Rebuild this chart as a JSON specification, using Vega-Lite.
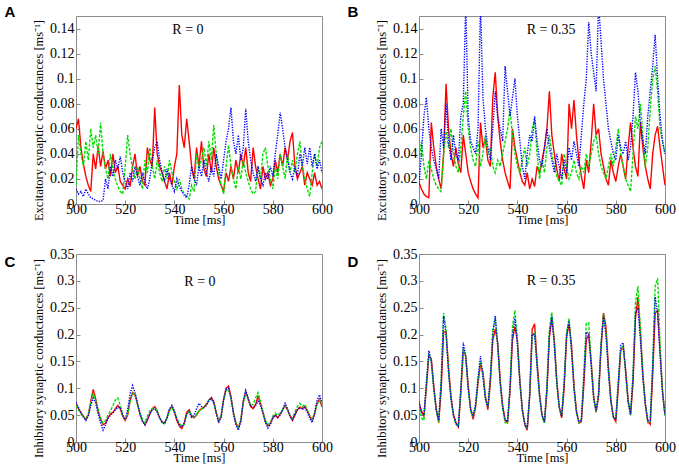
{
  "$schema": "https://vega.github.io/schema/vega-lite/v6.json",
  "background": "#ffffff",
  "padding": {"left": 4, "top": 4, "right": 0, "bottom": 0},
  "config": {
    "font": "Liberation Serif",
    "view": {"stroke": "#8c8c8c", "strokeWidth": 1},
    "title": {"font": "Liberation Sans", "fontWeight": "bold", "fontSize": 15, "anchor": "start", "frame": "bounds", "offset": -4, "dx": -28}
  },
  "datasets": {
    "A": [
      {"t":500,"r":0.060,"g":0.015,"b":0.012},{"t":501,"r":0.068,"g":0.055,"b":0.008},{"t":502,"r":0.045,"g":0.040,"b":0.010},{"t":503,"r":0.032,"g":0.030,"b":0.006},{"t":504,"r":0.022,"g":0.050,"b":0.012},
      {"t":505,"r":0.015,"g":0.035,"b":0.008},{"t":506,"r":0.010,"g":0.060,"b":0.005},{"t":507,"r":0.040,"g":0.045,"b":0.004},{"t":508,"r":0.028,"g":0.055,"b":0.003},{"t":509,"r":0.046,"g":0.040,"b":0.002},
      {"t":510,"r":0.030,"g":0.065,"b":0.002},{"t":511,"r":0.042,"g":0.040,"b":0.003},{"t":512,"r":0.028,"g":0.028,"b":0.020},{"t":513,"r":0.035,"g":0.020,"b":0.012},{"t":514,"r":0.022,"g":0.040,"b":0.030},
      {"t":515,"r":0.040,"g":0.028,"b":0.022},{"t":516,"r":0.025,"g":0.020,"b":0.035},{"t":517,"r":0.030,"g":0.014,"b":0.028},{"t":518,"r":0.018,"g":0.010,"b":0.038},{"t":519,"r":0.015,"g":0.008,"b":0.025},
      {"t":520,"r":0.012,"g":0.030,"b":0.018},{"t":521,"r":0.020,"g":0.055,"b":0.012},{"t":522,"r":0.014,"g":0.040,"b":0.025},{"t":523,"r":0.030,"g":0.028,"b":0.018},{"t":524,"r":0.040,"g":0.020,"b":0.030},
      {"t":525,"r":0.022,"g":0.030,"b":0.022},{"t":526,"r":0.030,"g":0.020,"b":0.015},{"t":527,"r":0.018,"g":0.012,"b":0.025},{"t":528,"r":0.015,"g":0.035,"b":0.018},{"t":529,"r":0.045,"g":0.025,"b":0.012},
      {"t":530,"r":0.035,"g":0.045,"b":0.020},{"t":531,"r":0.030,"g":0.030,"b":0.035},{"t":532,"r":0.077,"g":0.020,"b":0.045},{"t":533,"r":0.040,"g":0.035,"b":0.050},{"t":534,"r":0.030,"g":0.025,"b":0.035},
      {"t":535,"r":0.025,"g":0.018,"b":0.025},{"t":536,"r":0.018,"g":0.030,"b":0.018},{"t":537,"r":0.012,"g":0.020,"b":0.028},{"t":538,"r":0.025,"g":0.035,"b":0.020},{"t":539,"r":0.015,"g":0.025,"b":0.015},
      {"t":540,"r":0.030,"g":0.018,"b":0.010},{"t":541,"r":0.040,"g":0.012,"b":0.020},{"t":542,"r":0.095,"g":0.020,"b":0.014},{"t":543,"r":0.055,"g":0.012,"b":0.010},{"t":544,"r":0.045,"g":0.008,"b":0.007},
      {"t":545,"r":0.068,"g":0.006,"b":0.005},{"t":546,"r":0.050,"g":0.004,"b":0.015},{"t":547,"r":0.030,"g":0.015,"b":0.030},{"t":548,"r":0.020,"g":0.010,"b":0.020},{"t":549,"r":0.045,"g":0.040,"b":0.015},
      {"t":550,"r":0.030,"g":0.028,"b":0.030},{"t":551,"r":0.050,"g":0.035,"b":0.022},{"t":552,"r":0.028,"g":0.045,"b":0.035},{"t":553,"r":0.022,"g":0.030,"b":0.025},{"t":554,"r":0.040,"g":0.050,"b":0.018},
      {"t":555,"r":0.025,"g":0.035,"b":0.030},{"t":556,"r":0.045,"g":0.063,"b":0.022},{"t":557,"r":0.030,"g":0.040,"b":0.040},{"t":558,"r":0.020,"g":0.025,"b":0.030},{"t":559,"r":0.015,"g":0.015,"b":0.020},
      {"t":560,"r":0.010,"g":0.008,"b":0.035},{"t":561,"r":0.025,"g":0.030,"b":0.050},{"t":562,"r":0.018,"g":0.047,"b":0.060},{"t":563,"r":0.030,"g":0.030,"b":0.077},{"t":564,"r":0.020,"g":0.020,"b":0.050},
      {"t":565,"r":0.035,"g":0.012,"b":0.040},{"t":566,"r":0.025,"g":0.030,"b":0.055},{"t":567,"r":0.040,"g":0.020,"b":0.035},{"t":568,"r":0.030,"g":0.035,"b":0.045},{"t":569,"r":0.045,"g":0.025,"b":0.076},
      {"t":570,"r":0.025,"g":0.018,"b":0.050},{"t":571,"r":0.018,"g":0.012,"b":0.035},{"t":572,"r":0.045,"g":0.008,"b":0.025},{"t":573,"r":0.030,"g":0.010,"b":0.018},{"t":574,"r":0.020,"g":0.030,"b":0.030},
      {"t":575,"r":0.012,"g":0.020,"b":0.020},{"t":576,"r":0.030,"g":0.040,"b":0.015},{"t":577,"r":0.020,"g":0.045,"b":0.025},{"t":578,"r":0.025,"g":0.030,"b":0.020},{"t":579,"r":0.015,"g":0.020,"b":0.030},
      {"t":580,"r":0.020,"g":0.012,"b":0.022},{"t":581,"r":0.035,"g":0.030,"b":0.040},{"t":582,"r":0.025,"g":0.020,"b":0.055},{"t":583,"r":0.040,"g":0.040,"b":0.073},{"t":584,"r":0.030,"g":0.030,"b":0.060},
      {"t":585,"r":0.045,"g":0.020,"b":0.045},{"t":586,"r":0.035,"g":0.040,"b":0.035},{"t":587,"r":0.050,"g":0.025,"b":0.025},{"t":588,"r":0.057,"g":0.035,"b":0.020},{"t":589,"r":0.030,"g":0.025,"b":0.030},
      {"t":590,"r":0.020,"g":0.040,"b":0.022},{"t":591,"r":0.025,"g":0.050,"b":0.040},{"t":592,"r":0.030,"g":0.030,"b":0.030},{"t":593,"r":0.015,"g":0.020,"b":0.045},{"t":594,"r":0.025,"g":0.012,"b":0.032},
      {"t":595,"r":0.020,"g":0.006,"b":0.045},{"t":596,"r":0.015,"g":0.025,"b":0.030},{"t":597,"r":0.025,"g":0.040,"b":0.040},{"t":598,"r":0.015,"g":0.030,"b":0.028},{"t":599,"r":0.018,"g":0.045,"b":0.035},
      {"t":600,"r":0.012,"g":0.050,"b":0.025}
    ],
    "B": [
      {"t":500,"r":0.017,"g":0.035,"b":0.015},{"t":501,"r":0.012,"g":0.050,"b":0.040},{"t":502,"r":0.008,"g":0.030,"b":0.070},{"t":503,"r":0.006,"g":0.020,"b":0.085},{"t":504,"r":0.005,"g":0.035,"b":0.060},
      {"t":505,"r":0.065,"g":0.028,"b":0.045},{"t":506,"r":0.045,"g":0.020,"b":0.035},{"t":507,"r":0.030,"g":0.015,"b":0.028},{"t":508,"r":0.020,"g":0.012,"b":0.020},{"t":509,"r":0.012,"g":0.010,"b":0.060},
      {"t":510,"r":0.040,"g":0.040,"b":0.045},{"t":511,"r":0.096,"g":0.058,"b":0.080},{"t":512,"r":0.060,"g":0.045,"b":0.050},{"t":513,"r":0.040,"g":0.060,"b":0.035},{"t":514,"r":0.030,"g":0.040,"b":0.055},
      {"t":515,"r":0.045,"g":0.030,"b":0.040},{"t":516,"r":0.032,"g":0.025,"b":0.035},{"t":517,"r":0.025,"g":0.045,"b":0.070},{"t":518,"r":0.055,"g":0.070,"b":0.080},{"t":519,"r":0.040,"g":0.090,"b":0.160},
      {"t":520,"r":0.025,"g":0.060,"b":0.070},{"t":521,"r":0.018,"g":0.045,"b":0.050},{"t":522,"r":0.012,"g":0.035,"b":0.045},{"t":523,"r":0.008,"g":0.030,"b":0.040},{"t":524,"r":0.005,"g":0.050,"b":0.060},
      {"t":525,"r":0.065,"g":0.030,"b":0.160},{"t":526,"r":0.045,"g":0.040,"b":0.085},{"t":527,"r":0.052,"g":0.055,"b":0.060},{"t":528,"r":0.035,"g":0.040,"b":0.045},{"t":529,"r":0.030,"g":0.045,"b":0.035},
      {"t":530,"r":0.085,"g":0.030,"b":0.060},{"t":531,"r":0.105,"g":0.025,"b":0.090},{"t":532,"r":0.070,"g":0.035,"b":0.070},{"t":533,"r":0.050,"g":0.030,"b":0.060},{"t":534,"r":0.035,"g":0.040,"b":0.050},
      {"t":535,"r":0.025,"g":0.050,"b":0.110},{"t":536,"r":0.018,"g":0.060,"b":0.090},{"t":537,"r":0.012,"g":0.075,"b":0.070},{"t":538,"r":0.060,"g":0.055,"b":0.085},{"t":539,"r":0.045,"g":0.040,"b":0.100},
      {"t":540,"r":0.035,"g":0.030,"b":0.070},{"t":541,"r":0.025,"g":0.025,"b":0.050},{"t":542,"r":0.018,"g":0.035,"b":0.030},{"t":543,"r":0.015,"g":0.045,"b":0.020},{"t":544,"r":0.025,"g":0.030,"b":0.040},
      {"t":545,"r":0.012,"g":0.040,"b":0.055},{"t":546,"r":0.020,"g":0.060,"b":0.050},{"t":547,"r":0.014,"g":0.068,"b":0.070},{"t":548,"r":0.030,"g":0.040,"b":0.050},{"t":549,"r":0.025,"g":0.020,"b":0.035},
      {"t":550,"r":0.035,"g":0.035,"b":0.030},{"t":551,"r":0.045,"g":0.025,"b":0.045},{"t":552,"r":0.060,"g":0.045,"b":0.060},{"t":553,"r":0.090,"g":0.055,"b":0.045},{"t":554,"r":0.055,"g":0.040,"b":0.035},
      {"t":555,"r":0.040,"g":0.030,"b":0.025},{"t":556,"r":0.028,"g":0.022,"b":0.040},{"t":557,"r":0.018,"g":0.018,"b":0.030},{"t":558,"r":0.040,"g":0.015,"b":0.020},{"t":559,"r":0.028,"g":0.040,"b":0.035},
      {"t":560,"r":0.020,"g":0.030,"b":0.025},{"t":561,"r":0.080,"g":0.020,"b":0.045},{"t":562,"r":0.060,"g":0.025,"b":0.035},{"t":563,"r":0.083,"g":0.035,"b":0.050},{"t":564,"r":0.055,"g":0.025,"b":0.040},
      {"t":565,"r":0.035,"g":0.020,"b":0.030},{"t":566,"r":0.022,"g":0.030,"b":0.055},{"t":567,"r":0.012,"g":0.025,"b":0.080},{"t":568,"r":0.035,"g":0.040,"b":0.100},{"t":569,"r":0.025,"g":0.030,"b":0.145},
      {"t":570,"r":0.050,"g":0.040,"b":0.120},{"t":571,"r":0.080,"g":0.050,"b":0.105},{"t":572,"r":0.055,"g":0.055,"b":0.090},{"t":573,"r":0.060,"g":0.040,"b":0.160},{"t":574,"r":0.040,"g":0.030,"b":0.130},
      {"t":575,"r":0.030,"g":0.025,"b":0.100},{"t":576,"r":0.020,"g":0.020,"b":0.080},{"t":577,"r":0.015,"g":0.030,"b":0.060},{"t":578,"r":0.035,"g":0.040,"b":0.050},{"t":579,"r":0.025,"g":0.030,"b":0.040},
      {"t":580,"r":0.018,"g":0.045,"b":0.035},{"t":581,"r":0.030,"g":0.060,"b":0.055},{"t":582,"r":0.040,"g":0.040,"b":0.045},{"t":583,"r":0.030,"g":0.030,"b":0.040},{"t":584,"r":0.020,"g":0.020,"b":0.050},
      {"t":585,"r":0.045,"g":0.015,"b":0.035},{"t":586,"r":0.065,"g":0.010,"b":0.045},{"t":587,"r":0.045,"g":0.040,"b":0.070},{"t":588,"r":0.030,"g":0.070,"b":0.105},{"t":589,"r":0.022,"g":0.060,"b":0.090},
      {"t":590,"r":0.065,"g":0.080,"b":0.065},{"t":591,"r":0.045,"g":0.055,"b":0.050},{"t":592,"r":0.030,"g":0.030,"b":0.040},{"t":593,"r":0.020,"g":0.045,"b":0.070},{"t":594,"r":0.012,"g":0.075,"b":0.090},
      {"t":595,"r":0.040,"g":0.100,"b":0.110},{"t":596,"r":0.055,"g":0.110,"b":0.135},{"t":597,"r":0.062,"g":0.090,"b":0.100},{"t":598,"r":0.045,"g":0.060,"b":0.070},{"t":599,"r":0.030,"g":0.050,"b":0.050},
      {"t":600,"r":0.015,"g":0.040,"b":0.040}
    ],
    "C": [
      {"t":500,"r":0.070,"g":0.068,"b":0.074},{"t":501,"r":0.062,"g":0.060,"b":0.064},{"t":502,"r":0.055,"g":0.053,"b":0.054},{"t":503,"r":0.048,"g":0.047,"b":0.046},{"t":504,"r":0.042,"g":0.043,"b":0.040},
      {"t":505,"r":0.050,"g":0.052,"b":0.048},{"t":506,"r":0.075,"g":0.072,"b":0.068},{"t":507,"r":0.098,"g":0.090,"b":0.082},{"t":508,"r":0.080,"g":0.078,"b":0.072},{"t":509,"r":0.058,"g":0.060,"b":0.052},
      {"t":510,"r":0.042,"g":0.045,"b":0.036},{"t":511,"r":0.032,"g":0.035,"b":0.022},{"t":512,"r":0.035,"g":0.040,"b":0.032},{"t":513,"r":0.045,"g":0.050,"b":0.044},{"t":514,"r":0.052,"g":0.058,"b":0.050},
      {"t":515,"r":0.055,"g":0.068,"b":0.054},{"t":516,"r":0.062,"g":0.078,"b":0.060},{"t":517,"r":0.068,"g":0.082,"b":0.064},{"t":518,"r":0.062,"g":0.068,"b":0.065},{"t":519,"r":0.048,"g":0.050,"b":0.050},
      {"t":520,"r":0.040,"g":0.042,"b":0.042},{"t":521,"r":0.050,"g":0.052,"b":0.060},{"t":522,"r":0.078,"g":0.075,"b":0.090},{"t":523,"r":0.092,"g":0.090,"b":0.105},{"t":524,"r":0.088,"g":0.088,"b":0.092},
      {"t":525,"r":0.070,"g":0.072,"b":0.072},{"t":526,"r":0.052,"g":0.055,"b":0.052},{"t":527,"r":0.040,"g":0.042,"b":0.038},{"t":528,"r":0.032,"g":0.035,"b":0.032},{"t":529,"r":0.040,"g":0.048,"b":0.042},
      {"t":530,"r":0.052,"g":0.058,"b":0.052},{"t":531,"r":0.062,"g":0.062,"b":0.060},{"t":532,"r":0.066,"g":0.064,"b":0.062},{"t":533,"r":0.058,"g":0.058,"b":0.055},{"t":534,"r":0.045,"g":0.045,"b":0.045},
      {"t":535,"r":0.038,"g":0.036,"b":0.036},{"t":536,"r":0.035,"g":0.034,"b":0.034},{"t":537,"r":0.045,"g":0.044,"b":0.046},{"t":538,"r":0.060,"g":0.058,"b":0.062},{"t":539,"r":0.066,"g":0.064,"b":0.068},
      {"t":540,"r":0.055,"g":0.056,"b":0.058},{"t":541,"r":0.040,"g":0.044,"b":0.042},{"t":542,"r":0.030,"g":0.034,"b":0.032},{"t":543,"r":0.025,"g":0.030,"b":0.028},{"t":544,"r":0.035,"g":0.032,"b":0.036},
      {"t":545,"r":0.055,"g":0.050,"b":0.052},{"t":546,"r":0.060,"g":0.058,"b":0.056},{"t":547,"r":0.048,"g":0.050,"b":0.046},{"t":548,"r":0.045,"g":0.046,"b":0.050},{"t":549,"r":0.050,"g":0.052,"b":0.062},
      {"t":550,"r":0.058,"g":0.058,"b":0.072},{"t":551,"r":0.062,"g":0.060,"b":0.066},{"t":552,"r":0.065,"g":0.064,"b":0.064},{"t":553,"r":0.070,"g":0.072,"b":0.068},{"t":554,"r":0.078,"g":0.078,"b":0.076},
      {"t":555,"r":0.083,"g":0.080,"b":0.082},{"t":556,"r":0.075,"g":0.072,"b":0.074},{"t":557,"r":0.055,"g":0.054,"b":0.054},{"t":558,"r":0.038,"g":0.040,"b":0.036},{"t":559,"r":0.048,"g":0.050,"b":0.046},
      {"t":560,"r":0.080,"g":0.078,"b":0.078},{"t":561,"r":0.100,"g":0.096,"b":0.098},{"t":562,"r":0.104,"g":0.098,"b":0.100},{"t":563,"r":0.085,"g":0.082,"b":0.082},{"t":564,"r":0.055,"g":0.055,"b":0.052},
      {"t":565,"r":0.035,"g":0.036,"b":0.032},{"t":566,"r":0.026,"g":0.028,"b":0.022},{"t":567,"r":0.040,"g":0.042,"b":0.038},{"t":568,"r":0.075,"g":0.074,"b":0.076},{"t":569,"r":0.094,"g":0.090,"b":0.096},
      {"t":570,"r":0.080,"g":0.078,"b":0.082},{"t":571,"r":0.066,"g":0.068,"b":0.066},{"t":572,"r":0.062,"g":0.070,"b":0.064},{"t":573,"r":0.070,"g":0.082,"b":0.068},{"t":574,"r":0.085,"g":0.092,"b":0.076},
      {"t":575,"r":0.072,"g":0.075,"b":0.068},{"t":576,"r":0.055,"g":0.056,"b":0.054},{"t":577,"r":0.038,"g":0.040,"b":0.036},{"t":578,"r":0.030,"g":0.032,"b":0.026},{"t":579,"r":0.035,"g":0.036,"b":0.032},
      {"t":580,"r":0.045,"g":0.048,"b":0.044},{"t":581,"r":0.050,"g":0.054,"b":0.050},{"t":582,"r":0.045,"g":0.050,"b":0.046},{"t":583,"r":0.052,"g":0.054,"b":0.050},{"t":584,"r":0.060,"g":0.060,"b":0.060},
      {"t":585,"r":0.068,"g":0.066,"b":0.072},{"t":586,"r":0.060,"g":0.060,"b":0.062},{"t":587,"r":0.048,"g":0.050,"b":0.048},{"t":588,"r":0.040,"g":0.044,"b":0.042},{"t":589,"r":0.050,"g":0.056,"b":0.052},
      {"t":590,"r":0.060,"g":0.066,"b":0.060},{"t":591,"r":0.065,"g":0.072,"b":0.064},{"t":592,"r":0.062,"g":0.066,"b":0.060},{"t":593,"r":0.066,"g":0.070,"b":0.064},{"t":594,"r":0.058,"g":0.060,"b":0.056},
      {"t":595,"r":0.048,"g":0.050,"b":0.044},{"t":596,"r":0.040,"g":0.042,"b":0.036},{"t":597,"r":0.052,"g":0.054,"b":0.054},{"t":598,"r":0.072,"g":0.070,"b":0.078},{"t":599,"r":0.080,"g":0.078,"b":0.088},
      {"t":600,"r":0.065,"g":0.068,"b":0.072}
    ],
    "D": [
      {"t":500,"r":0.072,"g":0.070,"b":0.075},{"t":501,"r":0.058,"g":0.045,"b":0.055},{"t":502,"r":0.048,"g":0.040,"b":0.050},{"t":503,"r":0.100,"g":0.110,"b":0.110},{"t":504,"r":0.160,"g":0.165,"b":0.170},
      {"t":505,"r":0.155,"g":0.150,"b":0.150},{"t":506,"r":0.105,"g":0.098,"b":0.100},{"t":507,"r":0.062,"g":0.058,"b":0.060},{"t":508,"r":0.036,"g":0.038,"b":0.040},{"t":509,"r":0.095,"g":0.115,"b":0.110},
      {"t":510,"r":0.205,"g":0.240,"b":0.235},{"t":511,"r":0.205,"g":0.210,"b":0.200},{"t":512,"r":0.140,"g":0.132,"b":0.130},{"t":513,"r":0.085,"g":0.080,"b":0.080},{"t":514,"r":0.052,"g":0.048,"b":0.050},
      {"t":515,"r":0.036,"g":0.033,"b":0.035},{"t":516,"r":0.028,"g":0.030,"b":0.030},{"t":517,"r":0.090,"g":0.095,"b":0.100},{"t":518,"r":0.170,"g":0.175,"b":0.185},{"t":519,"r":0.160,"g":0.158,"b":0.160},
      {"t":520,"r":0.105,"g":0.098,"b":0.100},{"t":521,"r":0.062,"g":0.058,"b":0.060},{"t":522,"r":0.042,"g":0.048,"b":0.050},{"t":523,"r":0.065,"g":0.068,"b":0.070},{"t":524,"r":0.110,"g":0.115,"b":0.120},
      {"t":525,"r":0.145,"g":0.150,"b":0.160},{"t":526,"r":0.130,"g":0.125,"b":0.120},{"t":527,"r":0.085,"g":0.080,"b":0.080},{"t":528,"r":0.060,"g":0.065,"b":0.065},{"t":529,"r":0.110,"g":0.120,"b":0.120},
      {"t":530,"r":0.190,"g":0.210,"b":0.200},{"t":531,"r":0.210,"g":0.230,"b":0.235},{"t":532,"r":0.185,"g":0.180,"b":0.180},{"t":533,"r":0.115,"g":0.110,"b":0.110},{"t":534,"r":0.068,"g":0.062,"b":0.065},
      {"t":535,"r":0.040,"g":0.036,"b":0.042},{"t":536,"r":0.036,"g":0.035,"b":0.038},{"t":537,"r":0.095,"g":0.105,"b":0.100},{"t":538,"r":0.190,"g":0.215,"b":0.200},{"t":539,"r":0.215,"g":0.245,"b":0.230},
      {"t":540,"r":0.190,"g":0.190,"b":0.180},{"t":541,"r":0.115,"g":0.112,"b":0.110},{"t":542,"r":0.060,"g":0.060,"b":0.060},{"t":543,"r":0.032,"g":0.034,"b":0.035},{"t":544,"r":0.022,"g":0.026,"b":0.025},
      {"t":545,"r":0.085,"g":0.088,"b":0.090},{"t":546,"r":0.210,"g":0.195,"b":0.200},{"t":547,"r":0.220,"g":0.205,"b":0.200},{"t":548,"r":0.150,"g":0.142,"b":0.140},{"t":549,"r":0.090,"g":0.085,"b":0.085},
      {"t":550,"r":0.050,"g":0.048,"b":0.050},{"t":551,"r":0.036,"g":0.036,"b":0.038},{"t":552,"r":0.095,"g":0.105,"b":0.100},{"t":553,"r":0.195,"g":0.210,"b":0.200},{"t":554,"r":0.230,"g":0.242,"b":0.235},
      {"t":555,"r":0.190,"g":0.185,"b":0.180},{"t":556,"r":0.115,"g":0.112,"b":0.110},{"t":557,"r":0.065,"g":0.064,"b":0.065},{"t":558,"r":0.045,"g":0.048,"b":0.048},{"t":559,"r":0.100,"g":0.112,"b":0.110},
      {"t":560,"r":0.195,"g":0.205,"b":0.200},{"t":561,"r":0.220,"g":0.230,"b":0.225},{"t":562,"r":0.180,"g":0.172,"b":0.170},{"t":563,"r":0.105,"g":0.100,"b":0.100},{"t":564,"r":0.058,"g":0.054,"b":0.055},
      {"t":565,"r":0.035,"g":0.036,"b":0.038},{"t":566,"r":0.038,"g":0.042,"b":0.040},{"t":567,"r":0.105,"g":0.128,"b":0.120},{"t":568,"r":0.190,"g":0.220,"b":0.205},{"t":569,"r":0.200,"g":0.222,"b":0.200},
      {"t":570,"r":0.150,"g":0.148,"b":0.140},{"t":571,"r":0.085,"g":0.082,"b":0.080},{"t":572,"r":0.055,"g":0.056,"b":0.058},{"t":573,"r":0.085,"g":0.092,"b":0.090},{"t":574,"r":0.175,"g":0.185,"b":0.180},
      {"t":575,"r":0.240,"g":0.238,"b":0.235},{"t":576,"r":0.215,"g":0.205,"b":0.200},{"t":577,"r":0.140,"g":0.132,"b":0.130},{"t":578,"r":0.078,"g":0.075,"b":0.075},{"t":579,"r":0.046,"g":0.046,"b":0.048},
      {"t":580,"r":0.038,"g":0.044,"b":0.042},{"t":581,"r":0.100,"g":0.112,"b":0.110},{"t":582,"r":0.170,"g":0.172,"b":0.180},{"t":583,"r":0.178,"g":0.180,"b":0.185},{"t":584,"r":0.135,"g":0.128,"b":0.130},
      {"t":585,"r":0.078,"g":0.074,"b":0.075},{"t":586,"r":0.050,"g":0.050,"b":0.052},{"t":587,"r":0.110,"g":0.130,"b":0.120},{"t":588,"r":0.230,"g":0.260,"b":0.240},{"t":589,"r":0.270,"g":0.290,"b":0.250},
      {"t":590,"r":0.205,"g":0.210,"b":0.190},{"t":591,"r":0.125,"g":0.128,"b":0.120},{"t":592,"r":0.072,"g":0.070,"b":0.070},{"t":593,"r":0.038,"g":0.036,"b":0.040},{"t":594,"r":0.033,"g":0.038,"b":0.040},
      {"t":595,"r":0.125,"g":0.150,"b":0.140},{"t":596,"r":0.240,"g":0.290,"b":0.270},{"t":597,"r":0.245,"g":0.305,"b":0.240},{"t":598,"r":0.170,"g":0.180,"b":0.160},{"t":599,"r":0.095,"g":0.095,"b":0.090},
      {"t":600,"r":0.050,"g":0.048,"b":0.050}
    ]
  },
  "vconcat": [
    {
      "hconcat": [
        {
          "title": {"text": "A"},
          "width": 246,
          "height": 188,
          "layer": [
            {
              "data": {"name": "A"},
              "transform": [{"fold": ["r", "g", "b"], "as": ["s", "v"]}],
              "mark": {"type": "line", "strokeWidth": 1.4, "clip": true},
              "encoding": {
                "x": {"field": "t", "type": "quantitative", "scale": {"domain": [500, 600], "nice": false}, "axis": {"values": [500, 520, 540, 560, 580, 600], "title": "Time [ms]", "labelFont": "Liberation Serif", "labelFontSize": 14, "labelColor": "#000000", "titleFont": "Liberation Serif", "titleFontSize": 12.5, "titleFontWeight": "normal", "titleColor": "#000000", "grid": false, "domain": false, "tickColor": "#8c8c8c", "tickSize": -4, "labelOverlap": false, "labelFlush": false, "labelPadding": 2, "titlePadding": -3}},
                "y": {"field": "v", "type": "quantitative", "scale": {"domain": [0, 0.15], "nice": false}, "axis": {"values": [0, 0.02, 0.04, 0.06, 0.08, 0.1, 0.12, 0.14], "format": "~g", "title": "Excitatory synaptic conductances [ms⁻¹]", "labelFont": "Liberation Serif", "labelFontSize": 14, "labelColor": "#000000", "titleFont": "Liberation Serif", "titleFontSize": 12.5, "titleFontWeight": "normal", "titleColor": "#000000", "grid": false, "domain": false, "tickColor": "#8c8c8c", "tickSize": -4, "labelOverlap": false, "labelPadding": 6, "titlePadding": 4, "titleY": 104}},
                "color": {"field": "s", "type": "nominal", "scale": {"domain": ["r", "g", "b"], "range": ["#ff0000", "#00dd00", "#0000ff"]}, "legend": null},
                "strokeDash": {"field": "s", "type": "nominal", "scale": {"domain": ["r", "g", "b"], "range": [[1, 0], [3, 1.5], [1.3, 1.3]]}, "legend": null}
              }
            },
            {
              "data": {"values": [{}]},
              "mark": {"type": "text", "font": "Liberation Serif", "fontSize": 14},
              "encoding": {
                "x": {"datum": 545.5, "type": "quantitative", "axis": {"values": [500, 520, 540, 560, 580, 600], "title": "Time [ms]", "labelFont": "Liberation Serif", "labelFontSize": 14, "labelColor": "#000000", "titleFont": "Liberation Serif", "titleFontSize": 12.5, "titleFontWeight": "normal", "titleColor": "#000000", "grid": false, "domain": false, "tickColor": "#8c8c8c", "tickSize": -4, "labelOverlap": false, "labelFlush": false, "labelPadding": 2, "titlePadding": -3}},
                "y": {"datum": 0.139, "type": "quantitative", "axis": {"values": [0, 0.02, 0.04, 0.06, 0.08, 0.1, 0.12, 0.14], "format": "~g", "title": "Excitatory synaptic conductances [ms⁻¹]", "labelFont": "Liberation Serif", "labelFontSize": 14, "labelColor": "#000000", "titleFont": "Liberation Serif", "titleFontSize": 12.5, "titleFontWeight": "normal", "titleColor": "#000000", "grid": false, "domain": false, "tickColor": "#8c8c8c", "tickSize": -4, "labelOverlap": false, "labelPadding": 6, "titlePadding": 4, "titleY": 104}},
                "text": {"value": "R = 0"}
              }
            }
          ]
        },
        {
          "title": {"text": "B"},
          "width": 246,
          "height": 188,
          "layer": [
            {
              "data": {"name": "B"},
              "transform": [{"fold": ["r", "g", "b"], "as": ["s", "v"]}],
              "mark": {"type": "line", "strokeWidth": 1.4, "clip": true},
              "encoding": {
                "x": {"field": "t", "type": "quantitative", "scale": {"domain": [500, 600], "nice": false}, "axis": {"values": [500, 520, 540, 560, 580, 600], "title": "Time [ms]", "labelFont": "Liberation Serif", "labelFontSize": 14, "labelColor": "#000000", "titleFont": "Liberation Serif", "titleFontSize": 12.5, "titleFontWeight": "normal", "titleColor": "#000000", "grid": false, "domain": false, "tickColor": "#8c8c8c", "tickSize": -4, "labelOverlap": false, "labelFlush": false, "labelPadding": 2, "titlePadding": -3}},
                "y": {"field": "v", "type": "quantitative", "scale": {"domain": [0, 0.15], "nice": false}, "axis": {"values": [0, 0.02, 0.04, 0.06, 0.08, 0.1, 0.12, 0.14], "format": "~g", "title": "Excitatory synaptic conductances [ms⁻¹]", "labelFont": "Liberation Serif", "labelFontSize": 14, "labelColor": "#000000", "titleFont": "Liberation Serif", "titleFontSize": 12.5, "titleFontWeight": "normal", "titleColor": "#000000", "grid": false, "domain": false, "tickColor": "#8c8c8c", "tickSize": -4, "labelOverlap": false, "labelPadding": 6, "titlePadding": 4, "titleY": 104}},
                "color": {"field": "s", "type": "nominal", "scale": {"domain": ["r", "g", "b"], "range": ["#ff0000", "#00dd00", "#0000ff"]}, "legend": null},
                "strokeDash": {"field": "s", "type": "nominal", "scale": {"domain": ["r", "g", "b"], "range": [[1, 0], [3, 1.5], [1.3, 1.3]]}, "legend": null}
              }
            },
            {
              "data": {"values": [{}]},
              "mark": {"type": "text", "font": "Liberation Serif", "fontSize": 14},
              "encoding": {
                "x": {"datum": 553.7, "type": "quantitative", "axis": {"values": [500, 520, 540, 560, 580, 600], "title": "Time [ms]", "labelFont": "Liberation Serif", "labelFontSize": 14, "labelColor": "#000000", "titleFont": "Liberation Serif", "titleFontSize": 12.5, "titleFontWeight": "normal", "titleColor": "#000000", "grid": false, "domain": false, "tickColor": "#8c8c8c", "tickSize": -4, "labelOverlap": false, "labelFlush": false, "labelPadding": 2, "titlePadding": -3}},
                "y": {"datum": 0.139, "type": "quantitative", "axis": {"values": [0, 0.02, 0.04, 0.06, 0.08, 0.1, 0.12, 0.14], "format": "~g", "title": "Excitatory synaptic conductances [ms⁻¹]", "labelFont": "Liberation Serif", "labelFontSize": 14, "labelColor": "#000000", "titleFont": "Liberation Serif", "titleFontSize": 12.5, "titleFontWeight": "normal", "titleColor": "#000000", "grid": false, "domain": false, "tickColor": "#8c8c8c", "tickSize": -4, "labelOverlap": false, "labelPadding": 6, "titlePadding": 4, "titleY": 104}},
                "text": {"value": "R = 0.35"}
              }
            }
          ]
        }
      ],
      "spacing": 14
    },
    {
      "hconcat": [
        {
          "title": {"text": "C", "offset": -23},
          "width": 246,
          "height": 188,
          "layer": [
            {
              "data": {"name": "C"},
              "transform": [{"fold": ["r", "g", "b"], "as": ["s", "v"]}],
              "mark": {"type": "line", "strokeWidth": 1.4, "clip": true},
              "encoding": {
                "x": {"field": "t", "type": "quantitative", "scale": {"domain": [500, 600], "nice": false}, "axis": {"values": [500, 520, 540, 560, 580, 600], "title": "Time [ms]", "labelFont": "Liberation Serif", "labelFontSize": 14, "labelColor": "#000000", "titleFont": "Liberation Serif", "titleFontSize": 12.5, "titleFontWeight": "normal", "titleColor": "#000000", "grid": false, "domain": false, "tickColor": "#8c8c8c", "tickSize": -4, "labelOverlap": false, "labelFlush": false, "labelPadding": 2, "titlePadding": -3}},
                "y": {"field": "v", "type": "quantitative", "scale": {"domain": [0, 0.35], "nice": false}, "axis": {"values": [0, 0.05, 0.1, 0.15, 0.2, 0.25, 0.3, 0.35], "format": "~g", "title": "Inhibitory synaptic conductances [ms⁻¹]", "labelFont": "Liberation Serif", "labelFontSize": 14, "labelColor": "#000000", "titleFont": "Liberation Serif", "titleFontSize": 12.5, "titleFontWeight": "normal", "titleColor": "#000000", "grid": false, "domain": false, "tickColor": "#8c8c8c", "tickSize": -4, "labelOverlap": false, "labelPadding": 6, "titlePadding": 4, "titleY": 104}},
                "color": {"field": "s", "type": "nominal", "scale": {"domain": ["r", "g", "b"], "range": ["#ff0000", "#00dd00", "#0000ff"]}, "legend": null},
                "strokeDash": {"field": "s", "type": "nominal", "scale": {"domain": ["r", "g", "b"], "range": [[1, 0], [3, 1.5], [1.3, 1.3]]}, "legend": null}
              }
            },
            {
              "data": {"values": [{}]},
              "mark": {"type": "text", "font": "Liberation Serif", "fontSize": 14},
              "encoding": {
                "x": {"datum": 550.4, "type": "quantitative", "axis": {"values": [500, 520, 540, 560, 580, 600], "title": "Time [ms]", "labelFont": "Liberation Serif", "labelFontSize": 14, "labelColor": "#000000", "titleFont": "Liberation Serif", "titleFontSize": 12.5, "titleFontWeight": "normal", "titleColor": "#000000", "grid": false, "domain": false, "tickColor": "#8c8c8c", "tickSize": -4, "labelOverlap": false, "labelFlush": false, "labelPadding": 2, "titlePadding": -3}},
                "y": {"datum": 0.298, "type": "quantitative", "axis": {"values": [0, 0.05, 0.1, 0.15, 0.2, 0.25, 0.3, 0.35], "format": "~g", "title": "Inhibitory synaptic conductances [ms⁻¹]", "labelFont": "Liberation Serif", "labelFontSize": 14, "labelColor": "#000000", "titleFont": "Liberation Serif", "titleFontSize": 12.5, "titleFontWeight": "normal", "titleColor": "#000000", "grid": false, "domain": false, "tickColor": "#8c8c8c", "tickSize": -4, "labelOverlap": false, "labelPadding": 6, "titlePadding": 4, "titleY": 104}},
                "text": {"value": "R = 0"}
              }
            }
          ]
        },
        {
          "title": {"text": "D", "offset": -23},
          "width": 246,
          "height": 188,
          "layer": [
            {
              "data": {"name": "D"},
              "transform": [{"fold": ["r", "g", "b"], "as": ["s", "v"]}],
              "mark": {"type": "line", "strokeWidth": 1.4, "clip": true},
              "encoding": {
                "x": {"field": "t", "type": "quantitative", "scale": {"domain": [500, 600], "nice": false}, "axis": {"values": [500, 520, 540, 560, 580, 600], "title": "Time [ms]", "labelFont": "Liberation Serif", "labelFontSize": 14, "labelColor": "#000000", "titleFont": "Liberation Serif", "titleFontSize": 12.5, "titleFontWeight": "normal", "titleColor": "#000000", "grid": false, "domain": false, "tickColor": "#8c8c8c", "tickSize": -4, "labelOverlap": false, "labelFlush": false, "labelPadding": 2, "titlePadding": -3}},
                "y": {"field": "v", "type": "quantitative", "scale": {"domain": [0, 0.35], "nice": false}, "axis": {"values": [0, 0.05, 0.1, 0.15, 0.2, 0.25, 0.3, 0.35], "format": "~g", "title": "Inhibitory synaptic conductances [ms⁻¹]", "labelFont": "Liberation Serif", "labelFontSize": 14, "labelColor": "#000000", "titleFont": "Liberation Serif", "titleFontSize": 12.5, "titleFontWeight": "normal", "titleColor": "#000000", "grid": false, "domain": false, "tickColor": "#8c8c8c", "tickSize": -4, "labelOverlap": false, "labelPadding": 6, "titlePadding": 4, "titleY": 104}},
                "color": {"field": "s", "type": "nominal", "scale": {"domain": ["r", "g", "b"], "range": ["#ff0000", "#00dd00", "#0000ff"]}, "legend": null},
                "strokeDash": {"field": "s", "type": "nominal", "scale": {"domain": ["r", "g", "b"], "range": [[1, 0], [3, 1.5], [1.3, 1.3]]}, "legend": null}
              }
            },
            {
              "data": {"values": [{}]},
              "mark": {"type": "text", "font": "Liberation Serif", "fontSize": 14},
              "encoding": {
                "x": {"datum": 553.7, "type": "quantitative", "axis": {"values": [500, 520, 540, 560, 580, 600], "title": "Time [ms]", "labelFont": "Liberation Serif", "labelFontSize": 14, "labelColor": "#000000", "titleFont": "Liberation Serif", "titleFontSize": 12.5, "titleFontWeight": "normal", "titleColor": "#000000", "grid": false, "domain": false, "tickColor": "#8c8c8c", "tickSize": -4, "labelOverlap": false, "labelFlush": false, "labelPadding": 2, "titlePadding": -3}},
                "y": {"datum": 0.3, "type": "quantitative", "axis": {"values": [0, 0.05, 0.1, 0.15, 0.2, 0.25, 0.3, 0.35], "format": "~g", "title": "Inhibitory synaptic conductances [ms⁻¹]", "labelFont": "Liberation Serif", "labelFontSize": 14, "labelColor": "#000000", "titleFont": "Liberation Serif", "titleFontSize": 12.5, "titleFontWeight": "normal", "titleColor": "#000000", "grid": false, "domain": false, "tickColor": "#8c8c8c", "tickSize": -4, "labelOverlap": false, "labelPadding": 6, "titlePadding": 4, "titleY": 104}},
                "text": {"value": "R = 0.35"}
              }
            }
          ]
        }
      ],
      "spacing": 14
    }
  ],
  "spacing": 20
}
